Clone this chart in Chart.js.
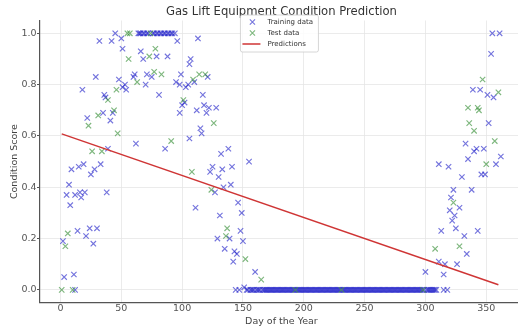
<!DOCTYPE html>
<html>
<head>
<meta charset="utf-8">
<title>Gas Lift Equipment Condition Prediction</title>
<script src="https://cdn.jsdelivr.net/npm/chart.js@4.4.1/dist/chart.umd.min.js"></script>
<style>
  html, body { margin: 0; padding: 0; background: #fff; overflow: hidden; }
  #wrap { width: 518px; height: 327px; overflow: hidden; }
</style>
</head>
<body>
<div id="wrap"><canvas id="chart" width="528" height="327"></canvas></div>
<script>
// training points (day of year, condition score)
const trainDays = [
  2, 3, 5, 7, 8, 9, 11, 12, 12, 14,
  15, 16, 17, 18, 19, 20, 21, 22, 24, 25,
  27, 28, 29, 30, 32, 33, 35, 36, 37, 38,
  39, 41, 42, 43, 45, 48, 50, 51, 51, 53,
  54, 60, 61, 62, 64, 65, 66, 66, 68, 68,
  69, 70, 71, 71, 72, 75, 76, 77, 79, 79,
  80, 81, 82, 83, 85, 86, 86, 88, 88, 89,
  91, 92, 94, 95, 96, 98, 98, 99, 100, 102,
  103, 105, 106, 106, 107, 110, 111, 112, 113, 115,
  116, 117, 118, 120, 121, 122, 123, 125, 127, 128,
  129, 130, 131, 132, 133, 134, 135, 138, 139, 140,
  141, 142, 143, 144, 145, 146, 147, 148, 149, 150,
  151, 155, 160,
  // flat stretch
  153, 154, 156, 157, 158, 159, 161, 162, 163, 164,
  166, 167, 168, 169, 170, 171, 172, 173, 174, 175,
  176, 177, 178, 179, 180, 181, 182, 183, 184, 185,
  186, 187, 188, 189, 190, 191, 192, 194, 195, 196,
  197, 198, 199, 200, 201, 202, 203, 204, 205, 206,
  207, 208, 209, 210, 211, 212, 213, 214, 215, 216,
  217, 218, 219, 220, 221, 222, 223, 224, 225, 226,
  227, 228, 229, 230, 232, 233, 234, 235, 236, 237,
  238, 239, 240, 241, 242, 243, 244, 245, 246, 247,
  248, 249, 250, 251, 252, 253, 254, 255, 256, 257,
  258, 259, 260, 261, 262, 263, 264, 265, 266, 267,
  268, 269, 270, 271, 272, 273, 274, 275, 276, 277,
  278, 279, 280, 281, 282, 283, 284, 285, 286, 287,
  288, 289, 290, 291, 292, 293, 294, 295, 296, 297,
  299, 301, 302, 303, 304, 305, 306, 307, 308, 309,
  // end of year
  300, 311, 311, 313, 315, 315, 316, 318, 319, 320,
  321, 322, 323, 324, 325, 326, 328, 330, 332, 333,
  334, 335, 338, 339, 340, 342, 343, 345, 346, 348,
  349, 351, 352, 354, 355, 356, 358, 361, 362
];
const trainScores = [
  0.19, 0.05, 0.37, 0.41, 0.33, 0.47, 0.06, 0.00, 0.37, 0.23,
  0.48, 0.38, 0.36, 0.78, 0.49, 0.38, 0.21, 0.67, 0.24, 0.45,
  0.18, 0.47, 0.83, 0.24, 0.97, 0.49, 0.69, 0.76, 0.75, 0.38,
  0.55, 0.66, 0.97, 0.69, 1.00, 0.82, 0.98, 0.94, 0.79, 0.80,
  0.78, 0.83, 0.84, 0.57, 1.00, 1.00, 1.00, 0.93, 1.00, 0.90,
  1.00, 0.80, 1.00, 0.84, 1.00, 0.83, 1.00, 1.00, 1.00, 0.91,
  1.00, 0.76, 1.00, 1.00, 1.00, 1.00, 0.55, 1.00, 0.91, 1.00,
  1.00, 1.00, 1.00, 0.81, 0.97, 0.80, 0.69, 0.84, 0.72, 0.73,
  0.79, 0.80, 0.88, 0.59, 0.90, 0.81, 0.32, 0.70, 0.98, 0.63,
  0.61, 0.76, 0.72, 0.69, 0.83, 0.71, 0.46, 0.48, 0.38, 0.71,
  0.20, 0.44, 0.29, 0.53, 0.47, 0.40, 0.16, 0.55, 0.20, 0.41,
  0.48, 0.11, 0.15, 0.00, 0.14, 0.34, 0.00, 0.23, 0.30, 0.19,
  0.01, 0.50, 0.07,
  0, 0, 0, 0, 0, 0, 0, 0, 0, 0,
  0, 0, 0, 0, 0, 0, 0, 0, 0, 0,
  0, 0, 0, 0, 0, 0, 0, 0, 0, 0,
  0, 0, 0, 0, 0, 0, 0, 0, 0, 0,
  0, 0, 0, 0, 0, 0, 0, 0, 0, 0,
  0, 0, 0, 0, 0, 0, 0, 0, 0, 0,
  0, 0, 0, 0, 0, 0, 0, 0, 0, 0,
  0, 0, 0, 0, 0, 0, 0, 0, 0, 0,
  0, 0, 0, 0, 0, 0, 0, 0, 0, 0,
  0, 0, 0, 0, 0, 0, 0, 0, 0, 0,
  0, 0, 0, 0, 0, 0, 0, 0, 0, 0,
  0, 0, 0, 0, 0, 0, 0, 0, 0, 0,
  0, 0, 0, 0, 0, 0, 0, 0, 0, 0,
  0, 0, 0, 0, 0, 0, 0, 0, 0, 0,
  0, 0, 0, 0, 0, 0, 0, 0, 0, 0,
  0.07, 0.11, 0.49, 0.23, 0.06, 0.00, 0.10, 0.00, 0.48, 0.31,
  0.36, 0.27, 0.39, 0.29, 0.24, 0.10, 0.32, 0.44, 0.21, 0.57,
  0.14, 0.51, 0.39, 0.78, 0.54, 0.55, 0.23, 0.78, 0.45, 0.55,
  0.45, 0.76, 0.65, 0.92, 1.00, 0.75, 0.49, 1.00, 0.52
];

// test points
const testDays = [
  1, 4, 6, 10, 23, 26, 31, 34, 39, 44,
  46, 47, 55, 56, 57, 63, 73, 74, 77, 78,
  83, 91, 101, 108, 109, 114, 119, 124, 126, 136,
  137, 152, 165, 193, 231, 298, 308, 323, 328, 335,
  336, 340, 343, 344, 347, 350, 357, 360
];
const testScores = [
  0.00, 0.17, 0.22, 0.00, 0.64, 0.54, 0.68, 0.54, 0.74, 0.70,
  0.78, 0.61, 1.00, 0.90, 1.00, 0.81, 0.91, 1.00, 0.85, 0.94,
  0.84, 0.58, 0.74, 0.46, 0.82, 0.84, 0.84, 0.39, 0.65, 0.21,
  0.24, 0.12, 0.04, 0.00, 0.00, 0.00, 0.16, 0.34, 0.17, 0.71,
  0.65, 0.62, 0.71, 0.70, 0.82, 0.49, 0.58, 0.77
];

// regression line ends
const predDays = [1, 360];
const predScores = [0.608, 0.020];

const xTickValues = [0, 50, 100, 150, 200, 250, 300, 350];
const xTickLabels = ['0', '50', '100', '150', '200', '250', '300', '350'];
const yTickValues = [0, 0.2, 0.4, 0.6, 0.8, 1.0];
const yTickLabels = ['0.0', '0.2', '0.4', '0.6', '0.8', '1.0'];

const FONT = '"DejaVu Sans", sans-serif';
const X_MIN = -16.85, X_MAX = 380.1;
const TRAIN_COLOR = 'rgba(30, 30, 200, 0.62)';
const TEST_COLOR = 'rgba(40, 135, 40, 0.6)';
const PRED_COLOR = '#cf3535';

const toPoints = (xs, ys) => xs.map((x, i) => ({ x: x, y: ys[i] }));

// matplotlib-like legend box inside the plot
const insideLegend = {
  id: 'insideLegend',
  afterDraw(chart) {
    const ctx = chart.ctx;
    const area = chart.chartArea;
    const w = 78, h = 37;
    const left = (area.left + area.right) / 2 - w / 2 - 2;
    const top = area.top - 5.5;
    ctx.save();
    ctx.fillStyle = 'rgba(255,255,255,0.85)';
    ctx.strokeStyle = '#cccccc';
    ctx.lineWidth = 0.8;
    ctx.beginPath();
    ctx.roundRect(left, top, w, h, 2);
    ctx.fill();
    ctx.stroke();
    ctx.font = '7px ' + FONT;
    ctx.textBaseline = 'middle';
    chart.data.datasets.forEach((ds, i) => {
      const y = top + 7 + i * 11;
      ctx.strokeStyle = ds.borderColor;
      if (ds.showLine) {
        ctx.lineWidth = ds.borderWidth;
        ctx.beginPath();
        ctx.moveTo(left + 2, y);
        ctx.lineTo(left + 20, y);
        ctx.stroke();
      } else {
        const r = 2.6;
        ctx.lineWidth = 1.1;
        ctx.beginPath();
        ctx.moveTo(left + 12 - r, y - r);
        ctx.lineTo(left + 12 + r, y + r);
        ctx.moveTo(left + 12 - r, y + r);
        ctx.lineTo(left + 12 + r, y - r);
        ctx.stroke();
      }
      ctx.fillStyle = '#333';
      ctx.fillText(ds.label, left + 27, y);
    });
    ctx.restore();
  }
};

const ctx = document.getElementById('chart').getContext('2d');
new Chart(ctx, {
  type: 'scatter',
  data: {
    datasets: [
      {
        label: 'Training data',
        data: toPoints(trainDays, trainScores),
        pointStyle: 'crossRot',
        pointRadius: 3.8,
        pointBorderWidth: 1.15,
        borderColor: TRAIN_COLOR,
        backgroundColor: TRAIN_COLOR,
        order: 3
      },
      {
        label: 'Test data',
        data: toPoints(testDays, testScores),
        pointStyle: 'crossRot',
        pointRadius: 3.8,
        pointBorderWidth: 1.15,
        borderColor: TEST_COLOR,
        backgroundColor: TEST_COLOR,
        order: 2
      },
      {
        label: 'Predictions',
        data: toPoints(predDays, predScores),
        showLine: true,
        pointRadius: 0,
        borderColor: PRED_COLOR,
        borderWidth: 1.5,
        order: 1
      }
    ]
  },
  options: {
    responsive: false,
    animation: false,
    devicePixelRatio: 1,
    layout: { padding: 0 },
    plugins: {
      legend: { display: false },
      tooltip: { enabled: false }
    },
    scales: {
      x: {
        type: 'linear',
        position: 'bottom',
        min: X_MIN,
        max: X_MAX,
        afterFit: (s) => { s.height = 24.3; },
        afterBuildTicks: (s) => { s.ticks = xTickValues.map(v => ({ value: v })); },
        grid: { color: '#e6e6e6', lineWidth: 0.8, drawTicks: false },
        border: { color: '#555', width: 1.2 },
        ticks: {
          color: '#555',
          font: { family: FONT, size: 9.5, lineHeight: 1 },
          padding: 1.5,
          maxRotation: 0,
          autoSkip: false,
          callback: (v, i) => xTickLabels[i]
        },
        title: {
          display: true,
          text: 'Day of the Year',
          color: '#444',
          font: { family: FONT, size: 9.5, lineHeight: 1 },
          padding: { top: 0, bottom: 0.3 }
        }
      },
      // top axis only carries the chart title, centred over the plot
      x2: {
        type: 'linear',
        position: 'top',
        min: X_MIN,
        max: X_MAX,
        afterFit: (s) => { s.height = 20.5; },
        grid: { display: false },
        border: { display: false },
        ticks: { display: false },
        title: {
          display: true,
          text: 'Gas Lift Equipment Condition Prediction',
          color: '#333',
          font: { family: FONT, size: 11.6, lineHeight: 1.2 },
          padding: { top: 5, bottom: 0 }
        }
      },
      y: {
        min: -0.05,
        max: 1.05,
        afterFit: (s) => { s.width = 40; },
        afterBuildTicks: (s) => { s.ticks = yTickValues.map(v => ({ value: v })); },
        grid: { color: '#e6e6e6', lineWidth: 0.8, tickLength: 3, tickColor: '#555', tickWidth: 1 },
        border: { color: '#555', width: 1.2 },
        ticks: {
          color: '#555',
          font: { family: FONT, size: 9.5 },
          padding: 0.5,
          callback: (v, i) => yTickLabels[i]
        },
        title: {
          display: true,
          text: 'Condition Score',
          color: '#444',
          font: { family: FONT, size: 9.5, lineHeight: 1.2 },
          padding: { top: 9, bottom: 0 }
        }
      }
    }
  },
  plugins: [insideLegend]
});
</script>
</body>
</html>
